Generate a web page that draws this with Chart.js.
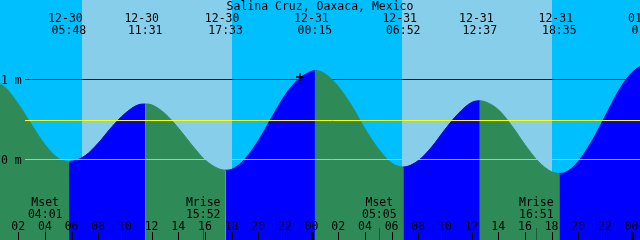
<!DOCTYPE html>
<html>
<head>
<meta charset="utf-8">
<script src="https://cdn.jsdelivr.net/npm/chart.js@4.4.1/dist/chart.umd.min.js"></script>
<style>
  html, body { margin: 0; padding: 0; background: #00bfff; }
  canvas { display: block; }
</style>
</head>
<body>
<canvas id="tideChart" width="640" height="240"></canvas>
<script>
// all times are hours counted from 12-30 00:00
const stationName = 'Salina Cruz, Oaxaca, Mexico';

// tide curve: hourly, plus the highs and lows
const tideHours  = [-0.2, 1, 2, 3, 4, 5, 5.8, 7, 8, 9, 10, 11, 11.52,
                    12, 13, 14, 15, 16, 17, 17.55, 18, 19, 20, 21, 22, 23, 24, 24.25,
                    25, 26, 27, 28, 29, 30, 30.87, 32, 33, 34, 35, 36, 36.62,
                    37, 38, 39, 40, 41, 42, 42.58, 43, 44, 45, 46, 47, 48, 49, 49.3];
const tideLevels = [1.00, 0.90, 0.69, 0.43, 0.18, 0.01, -0.03, 0.04, 0.20, 0.40, 0.57, 0.68, 0.69,
                    0.68, 0.57, 0.39, 0.18, -0.01, -0.12, -0.14, -0.13, 0.00, 0.23, 0.52, 0.80, 1.00, 1.10, 1.11,
                    1.07, 0.91, 0.67, 0.38, 0.13, -0.05, -0.10, -0.02, 0.15, 0.37, 0.57, 0.71, 0.73,
                    0.72, 0.62, 0.42, 0.18, -0.03, -0.16, -0.18, -0.17, -0.03, 0.22, 0.53, 0.85, 1.08, 1.19, 1.20];

const eventDates = ['12-30', '12-30', '12-30', '12-31', '12-31', '12-31', '12-31', '01-01'];
const eventTimes = ['05:48', '11:31', '17:33', '00:15', '06:52', '12:37', '18:35', '01:18'];
const eventHours = [5.8, 11.52, 17.55, 24.25, 30.87, 36.62, 42.58, 49.3];

const sunriseHours = [6.8, 30.8];
const sunsetHours  = [18.0, 42.0];

const moonNames = ['Mset', 'Mrise', 'Mset', 'Mrise'];
const moonTimes = ['04:01', '15:52', '05:05', '16:51'];
const moonHours = [4.02, 15.87, 29.08, 40.85];

const hourTicks  = [2, 4, 6, 8, 10, 12, 14, 16, 18, 20, 22, 24, 26, 28, 30, 32, 34, 36, 38, 40, 42, 44, 46, 48];
const hourLabels = ['02', '04', '06', '08', '10', '12', '14', '16', '18', '20', '22', '00',
                    '02', '04', '06', '08', '10', '12', '14', '16', '18', '20', '22', '00'];

const levelMarks  = [1, 0];
const levelLabels = ['1 m', '0 m'];
const meanLevel = 0.49;

const nowHours  = [23.13];
const nowLevels = [1.03];

const FONT = '11.5px "DejaVu Sans Mono", "Liberation Mono", monospace';
const NIGHT = '#00bfff', DAY = '#87ceeb', EBB = '#2e8b57', FLOOD = '#0000ff';

function hline(chart, level, color) {
  const { ctx, scales: { y } } = chart;
  const py = Math.round(y.getPixelForValue(level)) + 0.5;
  ctx.save();
  ctx.strokeStyle = color;
  ctx.lineWidth = 1;
  ctx.beginPath();
  ctx.moveTo(25, py);
  ctx.lineTo(chart.width, py);
  ctx.stroke();
  ctx.restore();
}

const tidePainter = {
  id: 'tidePainter',
  beforeDraw(chart) {
    const { ctx, scales: { x } } = chart;
    ctx.save();
    ctx.fillStyle = NIGHT;
    ctx.fillRect(0, 0, chart.width, chart.height);
    ctx.fillStyle = DAY;
    sunriseHours.forEach((h, i) => {
      const x0 = Math.round(x.getPixelForValue(h));
      const x1 = Math.round(x.getPixelForValue(sunsetHours[i]));
      ctx.fillRect(x0, 0, x1 - x0, chart.height);
    });
    ctx.restore();
  },
  beforeDatasetsDraw(chart) {
    hline(chart, levelMarks[0], '#000000');   // 1 m line stays behind the water
  },
  afterDatasetsDraw(chart) {
    hline(chart, levelMarks[1], DAY);
    hline(chart, meanLevel, '#ffff00');
  },
  afterDraw(chart) {
    const { ctx, scales: { x, y } } = chart;
    ctx.save();
    ctx.font = FONT;
    ctx.fillStyle = '#000000';
    ctx.textBaseline = 'alphabetic';
    ctx.textAlign = 'center';
    ctx.fillText(stationName, 320, 10);

    eventHours.forEach((h, i) => {
      const px = x.getPixelForValue(h);
      ctx.fillText(eventDates[i], px - 3.5, 21.5);
      ctx.fillText(eventTimes[i], px, 33.5);
    });

    moonHours.forEach((h, i) => {
      const px = x.getPixelForValue(h);
      ctx.fillText(moonNames[i], px, 206);
      ctx.fillText(moonTimes[i], px, 217.5);
    });

    hourTicks.forEach((h, i) => {
      ctx.fillText(hourLabels[i], x.getPixelForValue(h), 229.5);
    });

    ctx.textAlign = 'left';
    levelMarks.forEach((v, i) => {
      ctx.fillText(levelLabels[i], 1, Math.round(y.getPixelForValue(v)) + 4.5);
    });

    // tick marks along the bottom
    ctx.fillStyle = 'rgba(0,0,0,0.35)';
    moonHours.forEach(h => {
      ctx.fillRect(Math.round(x.getPixelForValue(h)), 228, 1, 12);
    });
    ctx.fillStyle = '#000000';
    hourTicks.forEach((h, i) => {
      const px = Math.round(x.getPixelForValue(h));
      const w = hourLabels[i] === '00' ? 3 : 1;
      ctx.fillRect(px - Math.floor(w / 2), 232, w, 8);
    });
    ctx.restore();
  }
};

const rising = c => c.p1.parsed.y > c.p0.parsed.y;

new Chart(document.getElementById('tideChart'), {
  type: 'line',
  data: {
    datasets: [
      {
        label: 'now',
        type: 'scatter',
        data: nowHours.map((h, i) => ({ x: h, y: nowLevels[i] })),
        pointStyle: 'cross',
        pointRadius: 4,
        borderColor: '#000000',
        borderWidth: 1.5,
        order: 0
      },
      {
        label: 'tide',
        data: tideHours.map((h, i) => ({ x: h, y: tideLevels[i] })),
        fill: 'start',
        backgroundColor: EBB,
        borderColor: EBB,
        borderWidth: 1,
        pointRadius: 0,
        cubicInterpolationMode: 'monotone',
        segment: {
          backgroundColor: c => rising(c) ? FLOOD : EBB,
          borderColor: c => rising(c) ? FLOOD : EBB
        },
        order: 5
      }
    ]
  },
  options: {
    responsive: false,
    animation: false,
    devicePixelRatio: 1,
    layout: { padding: 0, autoPadding: false },
    plugins: {
      legend: { display: false },
      tooltip: { enabled: false }
    },
    scales: {
      x: { type: 'linear', min: 0.63, max: 48.63, display: false },
      y: { type: 'linear', min: -1.016, max: 1.995, display: false }
    }
  },
  plugins: [tidePainter]
});
</script>
</body>
</html>
